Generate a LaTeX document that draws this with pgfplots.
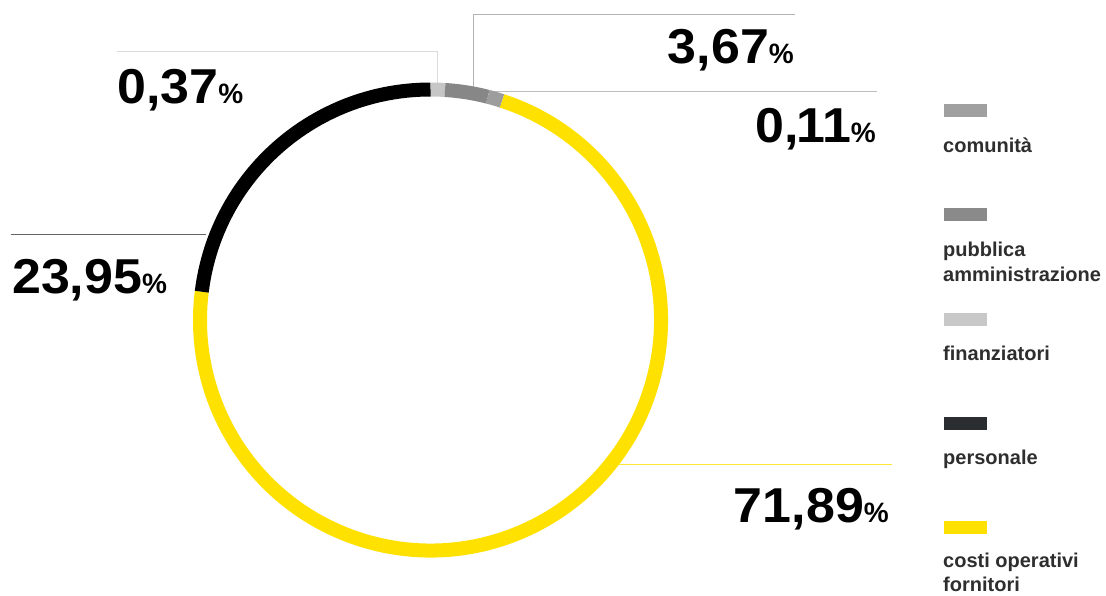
\documentclass[border=0pt]{standalone}
\usepackage{fontspec}
\setmainfont{Liberation Sans}
\newfontfamily\numfont{Liberation Sans}[FakeStretch=1.06]
\usepackage{pgfplots}
\pgfplotsset{compat=1.18}
\definecolor{ylw}{HTML}{FFE100}
\definecolor{cfin}{HTML}{C6C6C6}
\definecolor{cpa}{HTML}{878787}
\definecolor{ccom}{HTML}{9D9D9D}
\definecolor{cpers}{HTML}{000000}
\definecolor{lcom}{HTML}{A0A0A0}
\definecolor{lpa}{HTML}{8A8A8A}
\definecolor{lfin}{HTML}{C8C8C8}
\definecolor{lpers}{HTML}{2B2E30}
\definecolor{legtext}{HTML}{2E2E2E}
\newcommand{\pct}[1]{{\numfont\bfseries\fontsize{49}{49}\selectfont #1}{\bfseries\fontsize{28}{28}\selectfont\%}}
\newcommand{\leg}{\bfseries\fontsize{20}{20}\selectfont}
\pgfplotsset{seg/.style={scatter, only marks, mark=text, text mark={},
  visualization depends on={value \thisrow{a}\as\sa},
  visualization depends on={value \thisrow{b}\as\sb},
  scatter/@pre marker code/.code={%
    \pgfkeys{/pgf/fpu=false}%
    \pgfmathsetmacro\angA{90-3.6*\sa}%
    \pgfmathsetmacro\angB{90-3.6*\sb}%
    \draw[line width=14pt,draw=#1] (\angA:230.5pt) arc[start angle=\angA, end angle=\angB, radius=230.5pt];%
    \begin{scope}},
  scatter/@post marker code/.code={\end{scope}}}}
\begin{document}
\begin{tikzpicture}
\begin{axis}[scale only axis, width=1106pt, height=595pt,
  xmin=0, xmax=1106, ymin=0, ymax=595, y dir=reverse,
  hide axis, clip=false]
\path (rel axis cs:0,0) rectangle (rel axis cs:1,1);
% ring segments: cumulative shares of the circle (percent), clockwise from top
\addplot[seg=cfin] table {
x y a b
430.5 320 0 1.0
};
\addplot[seg=cpa] table {
x y a b
430.5 320 1.0 4.0
};
\addplot[seg=ccom] table {
x y a b
430.5 320 4.0 5.03
};
\addplot[seg=ylw] table {
x y a b
430.5 320 5.03 76.96
};
\addplot[seg=cpers] table {
x y a b
430.5 320 76.96 100
};
% leader lines
\addplot[no marks, color=black!14, line width=1pt] coordinates {(117,51.7) (437.7,51.7) (437.7,83)};
\addplot[no marks, color=black!30, line width=1pt] coordinates {(795,14.3) (473.5,14.3) (473.5,87)};
\addplot[no marks, color=black!26, line width=1pt] coordinates {(473.5,91.3) (877,91.3)};
\addplot[no marks, color=black!60, line width=1pt] coordinates {(10.7,234.3) (206,234.3)};
\addplot[no marks, color=ylw!80, line width=1pt] coordinates {(612,464.3) (891.7,464.3)};
% legend swatches
\addplot[no marks, color=lcom, line width=13pt] coordinates {(943.5,110.5) (987,110.5)};
\addplot[no marks, color=lpa, line width=13pt] coordinates {(943.5,214.5) (987,214.5)};
\addplot[no marks, color=lfin, line width=13pt] coordinates {(943.5,319) (987,319)};
\addplot[no marks, color=lpers, line width=13pt] coordinates {(943.5,423) (987,423)};
\addplot[no marks, color=ylw, line width=13pt] coordinates {(943.5,527.5) (987,527.5)};
% value labels
\node[anchor=base west, inner sep=0pt] at (axis cs:117,103) {\pct{0,37}};
\node[anchor=base east, inner sep=0pt] at (axis cs:794,63) {\pct{3,67}};
\node[anchor=base east, inner sep=0pt] at (axis cs:876,142) {\pct{0,\kern-3pt1\kern-3pt1}};
\node[anchor=base west, inner sep=0pt] at (axis cs:12,293) {\pct{23,95}};
\node[anchor=base east, inner sep=0pt] at (axis cs:889,522) {\pct{71,89}};
% legend text
\node[anchor=base west, inner sep=0pt, text=legtext] at (axis cs:943,152.7) {\leg comunità};
\node[anchor=base west, inner sep=0pt, text=legtext] at (axis cs:943,256.7) {\leg pubblica};
\node[anchor=base west, inner sep=0pt, text=legtext] at (axis cs:943,281.7) {\leg amministrazione};
\node[anchor=base west, inner sep=0pt, text=legtext] at (axis cs:943,360) {\leg finanziatori};
\node[anchor=base west, inner sep=0pt, text=legtext] at (axis cs:943,464) {\leg personale};
\node[anchor=base west, inner sep=0pt, text=legtext] at (axis cs:943,567.5) {\leg costi operativi};
\node[anchor=base west, inner sep=0pt, text=legtext] at (axis cs:943,591.5) {\leg fornitori};
\end{axis}
\end{tikzpicture}
\end{document}
